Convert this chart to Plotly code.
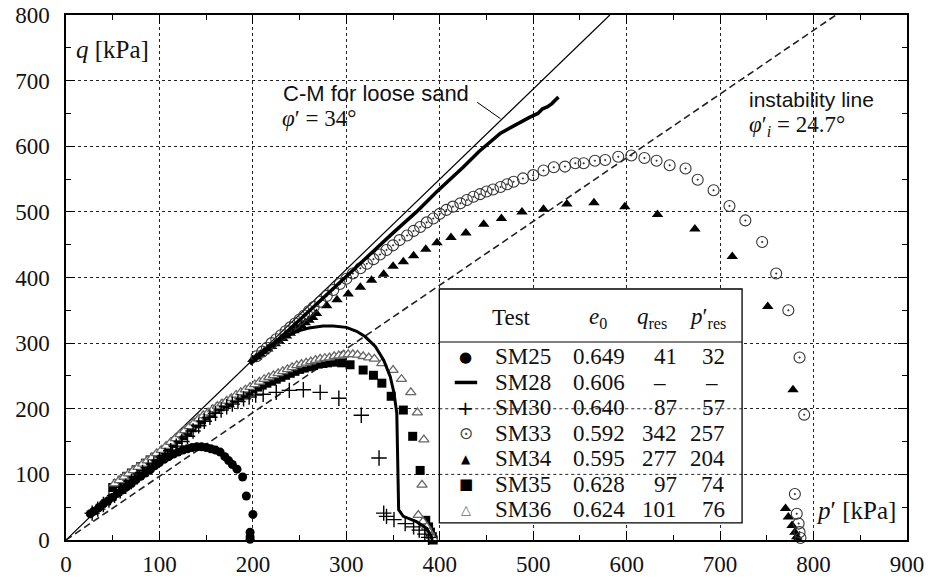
import plotly.graph_objects as go

# ---------------- data ----------------
cm_p = [0, 582]
cm_q = [0, 800]
inst_p = [0, 824]
inst_q = [0, 800]

sm25_p = [26, 30, 35, 40, 45, 50, 55, 60, 65, 70, 75, 80, 85, 90, 95, 100, 105, 110, 115, 120, 125, 130, 135, 140, 145, 150, 155, 160, 165, 170, 174, 178, 183, 189, 193, 200, 197, 197, 197]
sm25_q = [40, 44, 49, 55, 60, 65, 71, 76, 81, 86, 92, 97, 102, 107, 113, 118, 123, 127, 131, 134, 137, 139, 141, 142, 142, 141, 139, 137, 134, 127, 121, 115, 108, 96, 67, 39, 12, 5, 1]

sm28_p = [200, 220, 235, 247, 260, 275, 286, 300, 311, 320, 331, 340, 347, 351, 354, 355, 356, 356, 361, 375, 386, 391, 392]
sm28_q = [275, 297, 310, 318, 323, 326, 326, 324, 318, 310, 295, 274, 249, 224, 193, 137, 81, 46, 36, 28, 18, 5, 0]

upper_p = [197, 220, 243, 270, 300, 325, 350, 375, 397, 425, 442, 465, 480, 496, 505, 510, 515, 520, 527]
upper_q = [268, 296, 326, 362, 403, 436, 468, 500, 531, 568, 592, 620, 632, 644, 650, 657, 660, 665, 675]

sm30_p = [28, 34, 40, 46, 52, 58, 64, 70, 76, 82, 88, 94, 100, 106, 112, 118, 124, 130, 136, 142, 148, 154, 160, 166, 172, 178, 184, 190, 196, 203, 211, 225, 239, 254, 272, 292, 316, 335, 340, 343, 351, 363, 372, 378, 384, 388]
sm30_q = [41, 47, 54, 61, 68, 75, 82, 89, 96, 103, 110, 116, 122, 129, 136, 143, 150, 158, 166, 174, 181, 187, 193, 198, 203, 207, 211, 215, 218, 221, 222, 225, 228, 229, 225, 216, 190, 125, 41, 36, 31, 25, 20, 15, 9, 4]

sm33_p = [204, 210, 215, 220, 225, 230, 235, 240, 245, 250, 255, 260, 265, 272, 279, 286, 293, 300, 307, 315, 322, 329, 336, 343, 350, 357, 365, 372, 379, 386, 393, 400, 407, 414, 422, 429, 436, 443, 450, 457, 465, 472, 479, 489, 500, 511, 522, 534, 545, 554, 566, 577, 591, 605, 619, 632, 646, 663, 676, 693, 710, 727, 745, 760, 773, 785, 790, 780, 782, 784, 785, 786]
sm33_q = [280, 287, 293, 300, 306, 312, 318, 324, 330, 336, 342, 349, 355, 363, 372, 381, 390, 398, 406, 414, 421, 428, 435, 442, 449, 457, 464, 471, 477, 484, 490, 497, 503, 508, 513, 518, 523, 527, 531, 534, 538, 542, 546, 551, 556, 563, 568, 569, 574, 574, 578, 579, 584, 586, 582, 578, 571, 566, 549, 533, 509, 487, 454, 406, 350, 278, 191, 70, 40, 25, 12, 3]

sm34_p = [200, 204, 208, 212, 216, 220, 224, 228, 232, 236, 240, 244, 248, 252, 256, 260, 264, 268, 279, 290, 302, 315, 327, 340, 350, 361, 372, 385, 397, 412, 428, 447, 466, 488, 511, 536, 565, 598, 633, 673, 713, 751, 778, 770, 773, 777, 780, 782, 783]
sm34_q = [275, 279, 283, 287, 291, 295, 299, 303, 307, 311, 315, 319, 323, 327, 331, 335, 339, 345, 357, 366, 375, 385, 396, 405, 417, 424, 433, 443, 453, 461, 468, 481, 490, 500, 504, 512, 514, 508, 496, 474, 432, 356, 229, 48, 35, 22, 12, 5, 1]

sm35_p = [50, 55, 60, 65, 70, 75, 80, 85, 90, 95, 100, 105, 110, 115, 120, 125, 130, 135, 140, 145, 150, 155, 160, 165, 170, 175, 180, 185, 190, 195, 200, 205, 210, 215, 220, 225, 230, 235, 240, 245, 250, 255, 260, 265, 270, 275, 280, 286, 295, 304, 318, 329, 338, 348, 361, 371, 379, 385, 388, 390, 392, 393]
sm35_q = [80, 86, 91, 97, 102, 107, 112, 117, 122, 126, 130, 136, 141, 147, 153, 159, 165, 171, 177, 183, 189, 194, 199, 203, 207, 211, 215, 219, 223, 227, 230, 233, 236, 239, 242, 245, 248, 251, 254, 257, 260, 262, 264, 266, 268, 269, 270, 271, 270, 267, 259, 251, 239, 219, 198, 158, 106, 30, 20, 12, 5, 0]

sm36_p = [52, 57, 62, 67, 72, 77, 82, 87, 92, 97, 102, 107, 112, 117, 122, 127, 132, 137, 142, 147, 152, 157, 162, 167, 172, 177, 182, 187, 192, 197, 202, 207, 212, 217, 222, 227, 232, 237, 242, 247, 252, 257, 262, 267, 272, 277, 282, 287, 292, 297, 302, 307, 312, 318, 324, 330, 338, 350, 359, 369, 376, 383, 381, 377, 382, 386, 389, 391, 393]
sm36_q = [86, 91, 96, 101, 106, 111, 116, 121, 126, 132, 137, 143, 149, 155, 161, 167, 173, 179, 185, 190, 194, 199, 204, 208, 212, 216, 221, 225, 229, 233, 237, 241, 245, 248, 251, 254, 257, 260, 263, 266, 268, 270, 272, 274, 276, 277, 278, 280, 281, 282, 283, 283, 282, 280, 278, 276, 269, 259, 245, 225, 194, 153, 84, 38, 28, 20, 12, 6, 2]

# legend table content
tests = ["SM25", "SM28", "SM30", "SM33", "SM34", "SM35", "SM36"]
e0 = ["0.649", "0.606", "0.640", "0.592", "0.595", "0.628", "0.624"]
q_res = ["41", "–", "87", "342", "277", "97", "101"]
p_res = ["32", "–", "57", "257", "204", "74", "76"]

# ---------------- styles ----------------
SERIF = "Liberation Serif"
SANS = "Liberation Sans"
styles = {
    "SM25": dict(mode="markers", marker=dict(symbol="circle", size=9, color="black")),
    "SM28": dict(mode="lines", line=dict(color="black", width=3)),
    "SM30": dict(mode="markers", marker=dict(symbol="cross-thin", size=11, color="black",
                                             line=dict(color="black", width=1.4))),
    "SM33": dict(mode="markers", marker=dict(symbol="circle-open-dot", size=11, color="#333",
                                             line=dict(color="#333", width=1.1))),
    "SM34": dict(mode="markers", marker=dict(symbol="triangle-up", size=10, color="black")),
    "SM35": dict(mode="markers", marker=dict(symbol="square", size=9, color="black")),
    "SM36": dict(mode="markers", marker=dict(symbol="triangle-up", size=9, color="white",
                                             line=dict(color="#666", width=1.3))),
}
# legend glyphs (text symbols drawn over the table box)
glyphs = {
    "SM25": ("●", 15, "black"),
    "SM28": (None, 0, "black"),
    "SM30": ("+", 20, "black"),
    "SM33": ("⊙", 17, "#444"),
    "SM34": ("▲", 12, "black"),
    "SM35": ("■", 15, "black"),
    "SM36": ("△", 13, "#666"),
}

fig = go.Figure()

fig.add_trace(go.Scatter(x=cm_p, y=cm_q, mode="lines", line=dict(color="black", width=1.2),
                         showlegend=False, hoverinfo="skip"))
fig.add_trace(go.Scatter(x=inst_p, y=inst_q, mode="lines",
                         line=dict(color="#222", width=1.6, dash="7px,4px"),
                         showlegend=False, hoverinfo="skip"))

series = [
    ("SM35", sm35_p, sm35_q),
    ("SM36", sm36_p, sm36_q),
    ("SM30", sm30_p, sm30_q),
    ("SM25", sm25_p, sm25_q),
    ("SM34", sm34_p, sm34_q),
    ("SM33", sm33_p, sm33_q),
    ("SM28", sm28_p, sm28_q),
]
for name, px, py in series:
    fig.add_trace(go.Scatter(x=px, y=py, name=name, showlegend=False, cliponaxis=False, **styles[name]))
fig.add_trace(go.Scatter(x=upper_p, y=upper_q, mode="lines", line=dict(color="black", width=3.5),
                         showlegend=False, cliponaxis=False))

# ---------------- legend table (shapes above data, annotations for text) ----------------
box_l, box_r, box_b, box_t = 399.5, 723.5, 26, 382.5
sep_q = 301.7
row0, row_step = 278.9, 38.86
rows = [row0 - i * row_step for i in range(len(tests))]
col_mark, col_name, col_e0, col_q, col_p = 428, 457, 600.5, 655.5, 707

shapes = [
    dict(type="rect", xref="x", yref="y", x0=box_l, x1=box_r, y0=box_b, y1=box_t, layer="above",
         fillcolor="white", line=dict(color="black", width=1.3)),
    dict(type="line", xref="x", yref="y", x0=box_l, x1=box_r, y0=sep_q, y1=sep_q, layer="above",
         line=dict(color="black", width=1.2)),
]
for gq in (100, 200):
    shapes.append(dict(type="line", xref="x", yref="y", x0=box_l, x1=box_r, y0=gq, y1=gq, layer="above",
                       line=dict(color="#222", width=1, dash="dot")))
shapes.append(dict(type="line", xref="x", yref="y", x0=col_mark - 12, x1=col_mark + 12,
                   y0=rows[1], y1=rows[1], layer="above", line=dict(color="black", width=3.5)))
shapes.append(dict(type="line", xref="x", yref="y", x0=440, y0=667, x1=465, y1=642,
                   line=dict(color="black", width=1)))

annos = []
tf = dict(family=SERIF, size=23, color="#111")
for i, name in enumerate(tests):
    g, gs, gc = glyphs[name]
    if g:
        annos.append(dict(x=col_mark, y=rows[i], text=g, xanchor="center",
                          font=dict(family="DejaVu Sans", size=gs, color=gc)))
    annos.append(dict(x=col_name, y=rows[i], text=name, xanchor="left"))
    annos.append(dict(x=col_e0, y=rows[i], text=e0[i], xanchor="right"))
    if q_res[i] == "–":
        annos.append(dict(x=635.5, y=rows[i], text=q_res[i], xanchor="center"))
        annos.append(dict(x=691, y=rows[i], text=p_res[i], xanchor="center"))
    else:
        annos.append(dict(x=col_q, y=rows[i], text=q_res[i], xanchor="right"))
        annos.append(dict(x=col_p, y=rows[i], text=p_res[i], xanchor="right"))
hq = 339.8
annos += [
    dict(x=476.8, y=hq, text="Test", xanchor="center"),
    dict(x=568.8, y=hq - 2, text="<i>e</i><sub>0</sub>", xanchor="center"),
    dict(x=627.5, y=hq - 2, text="<i>q</i><sub>res</sub>", xanchor="center"),
    dict(x=686.5, y=hq - 2, text="<i>p</i>′<sub>res</sub>", xanchor="center"),
]
for a in annos:
    a.update(xref="x", yref="y", yanchor="middle", showarrow=False)
    a.setdefault("font", tf)

annos += [
    dict(x=8.5, y=747, xref="x", yref="y", text="<i>q</i> [kPa]", xanchor="left", yanchor="middle",
         showarrow=False, font=dict(family=SERIF, size=25, color="#111")),
    dict(x=890, y=45, xref="x", yref="y", text="<i>p</i>′ [kPa]", xanchor="right", yanchor="middle",
         showarrow=False, font=dict(family=SERIF, size=25, color="#111")),
    dict(x=230, y=681, xref="x", yref="y", text="C-M for loose sand", xanchor="left", yanchor="middle",
         showarrow=False, font=dict(family=SANS, size=22, color="#111")),
    dict(x=229, y=642, xref="x", yref="y", text="<i>φ</i>′ = 34°", xanchor="left", yanchor="middle",
         showarrow=False, font=dict(family=SERIF, size=23, color="#111")),
    dict(x=729, y=671, xref="x", yref="y", text="instability line", xanchor="left", yanchor="middle",
         showarrow=False, font=dict(family=SANS, size=21, color="#111")),
    dict(x=729, y=631, xref="x", yref="y", text="<i>φ</i>′<sub><i>i</i></sub> = 24.7°", xanchor="left",
         yanchor="middle", showarrow=False, font=dict(family=SERIF, size=23, color="#111")),
]

axis_common = dict(
    showline=True, linecolor="black", linewidth=1.5, mirror="ticks",
    ticks="inside", ticklen=9, tickcolor="black", tickwidth=1,
    showgrid=True, gridcolor="#222", gridwidth=1, griddash="dot",
    zeroline=False, tickfont=dict(family=SERIF, size=23, color="#111"),
    tickmode="linear", tick0=0, dtick=100, automargin=False,
    minor=dict(dtick=50, ticks="inside", ticklen=5, tickcolor="black", showgrid=False),
)

fig.update_layout(
    width=932, height=580,
    margin=dict(l=66, r=25, t=15, b=40),
    paper_bgcolor="white", plot_bgcolor="white",
    xaxis=dict(range=[0, 900], ticklabelstandoff=3, **axis_common),
    yaxis=dict(range=[0, 800], ticklabelstandoff=10, **axis_common),
    annotations=annos, shapes=shapes, showlegend=False,
)

fig.write_html("out.html")
